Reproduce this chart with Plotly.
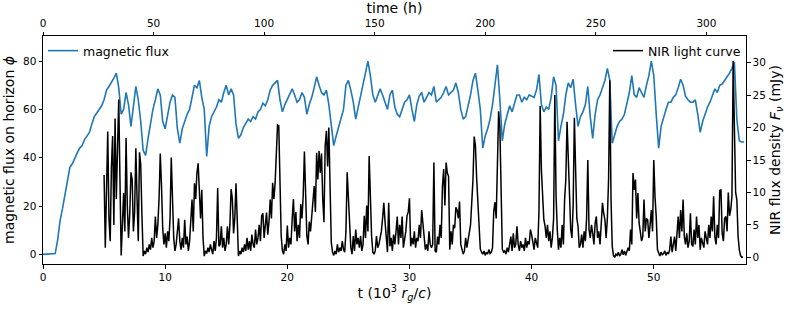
import numpy as np
import plotly.graph_objects as go

# ---- data ----
# magnetic flux on horizon, sampled every 0.2 (10^3 r_g/c) from t = 0
flux_step = 0.2
flux_values = [
    0, 0, 0, 0, 0,
    0.3, 6, 14, 19, 25,
    31, 36, 37.5, 40, 42,
    44, 45, 47.5, 49, 50.5,
    54, 57, 58.5, 60, 61.5,
    64, 68, 69.5, 71, 73,
    75, 69, 58, 60, 67,
    62, 53, 62, 69.5, 64,
    55, 43, 41, 48, 55,
    60, 64, 68.5, 66, 55,
    52, 58, 63, 66, 65,
    52, 46, 52, 55, 58,
    60, 65, 70, 69, 72,
    65, 60, 40.5, 53, 57,
    59, 61, 64, 63, 67,
    70, 66, 68.5, 66, 54,
    48, 49.5, 52.5, 54, 56,
    55, 57, 56, 59, 60,
    62.6, 61.5, 64, 68, 70,
    71, 72, 64, 59, 62,
    64, 66, 68.5, 66, 63,
    64, 67, 65, 58, 62,
    65, 69, 73.5, 70, 67,
    66, 68, 62, 52, 45,
    49, 53, 56, 60, 70,
    72, 68, 63, 56, 61,
    66, 70, 76, 80, 74,
    66, 63, 66, 68.5, 66,
    63, 60, 66, 68, 61,
    58, 57, 60, 63, 64,
    66, 60, 55, 62, 65.5,
    67, 63, 65, 67, 66,
    69.5, 63, 64, 65, 67,
    69.5, 66, 67, 68, 71,
    67, 60, 56, 57, 61,
    66, 72, 75, 68, 60,
    44, 49, 52, 56, 62,
    70, 78.5, 64, 47, 54,
    58, 61.5, 59, 63, 66,
    66, 63, 65, 64, 66,
    65.5, 65, 68, 74.5, 62,
    59, 61, 60, 65, 73.5,
    70, 47, 53, 58, 66,
    71, 69, 72.5, 62, 53,
    57, 59, 62, 69.5, 57,
    48, 58, 64, 66, 69,
    72, 77, 72, 46, 50,
    53, 55, 56, 58, 62,
    67, 74, 66, 65, 69,
    67, 65, 70, 74, 80,
    74, 58, 44, 53, 57,
    60, 63, 63, 65, 66,
    69, 72.5, 70, 65.5, 64,
    63, 63, 64, 58, 50.5,
    55, 58, 61, 63, 66,
    68.5, 67, 70, 70.5, 72,
    73, 75, 77, 79.5, 56,
    47, 46.5, 46.5,
]

# NIR light curve (mJy), sampled every 0.1 from t = 5.0
nir_start = 5.0
nir_step = 0.1
nir_values = [
    12.7, 1.5, 10.4, 19.4, 6.0, 2.5, 14.0, 18.7, 5.0, 21.4,
    9.0, 15.0, 24.3, 12.0, 0.3, 5.0, 9.9, 4.0, 18.4, 8.0,
    3.0, 6.6, 13.1, 12.0, 4.0, 7.0, 16.8, 9.0, 2.5, 16.2,
    14.3, 6.4, 0.2, 1.0, 0.5, 1.5, 0.8, 2.0, 1.2, 3.0,
    1.5, 2.5, 6.3, 3.0, 5.0, 9.0, 16.0, 11.0, 4.5, 2.0,
    3.7, 1.5, 4.0, 2.5, 6.0, 15.4, 7.3, 3.0, 1.0, 2.0,
    4.0, 6.0, 2.5, 1.2, 3.0, 1.5, 5.8, 2.0, 3.2, 1.0,
    2.5, 6.0, 8.9, 4.0, 11.4, 9.0, 13.0, 14.5, 10.4, 6.0,
    10.4, 3.0, 0.2, 1.0, 0.6, 1.5, 0.8, 2.0, 1.2, 0.5,
    2.5, 1.0, 3.0, 10.7, 1.7, 2.0, 4.8, 1.5, 3.0, 1.0,
    2.0, 4.8, 2.0, 5.0, 10.5, 9.0, 3.7, 6.0, 11.4, 4.0,
    0.2, 1.0, 0.5, 1.5, 0.8, 2.0, 1.0, 3.0, 1.2, 2.5,
    1.0, 3.5, 2.0, 1.5, 4.3, 2.0, 3.0, 5.0, 2.5, 6.4,
    6.8, 3.0, 4.5, 6.9, 3.5, 5.5, 8.9, 6.0, 11.5, 9.0,
    11.4, 16.0, 20.4, 20.3, 9.0, 3.3, 1.0, 0.5, 2.0, 1.0,
    4.9, 1.5, 3.0, 2.0, 6.0, 9.0, 4.0, 7.0, 2.5, 5.0,
    3.0, 8.2, 6.0, 9.5, 16.3, 7.0, 3.3, 2.0, 5.5, 4.0,
    6.0, 8.0, 11.0, 7.0, 16.1, 12.0, 16.4, 13.0, 16.0, 9.0,
    5.4, 17.2, 19.5, 14.0, 20.0, 11.0, 2.3, 0.8, 0.3, 1.0,
    0.5, 2.0, 0.8, 1.5, 1.0, 2.5, 1.2, 0.8, 4.0, 13.1,
    9.0, 3.5, 1.5, 0.5, 3.3, 1.0, 4.3, 2.0, 3.0, 1.5,
    3.3, 1.0, 2.0, 6.4, 3.0, 8.0, 4.0, 15.6, 7.4, 3.3,
    0.8, 0.5, 1.0, 3.3, 1.5, 2.0, 3.0, 4.0, 6.0, 8.4,
    5.5, 2.5, 0.8, 8.4, 1.7, 3.0, 1.0, 3.5, 2.0, 4.0,
    6.3, 2.0, 5.0, 3.0, 6.3, 1.5, 2.5, 4.0, 6.4, 7.0,
    9.1, 1.7, 3.0, 2.0, 4.0, 1.5, 3.0, 2.5, 5.0, 3.0,
    7.3, 5.4, 3.0, 1.2, 2.0, 1.0, 4.0, 2.0, 1.5, 2.0,
    14.6, 1.0, 0.8, 3.2, 2.0, 5.0, 3.0, 11.0, 13.6, 8.0,
    14.6, 13.0, 12.5, 1.2, 4.0, 2.0, 5.0, 4.5, 7.7, 7.3,
    6.0, 8.6, 2.0, 1.2, 0.5, 1.0, 3.0, 1.5, 2.5, 4.0,
    5.0, 8.5, 12.0, 18.6, 17.2, 12.2, 9.0, 6.0, 1.3, 0.8,
    0.5, 1.0, 0.3, 0.8, 0.5, 1.2, 0.6, 0.8, 1.5, 7.1,
    8.5, 6.0, 13.0, 22.5, 20.0, 9.0, 1.3, 0.8, 1.0, 0.5,
    1.5, 0.8, 2.0, 3.2, 1.0, 3.7, 1.5, 2.0, 4.8, 2.0,
    1.0, 2.5, 1.5, 2.0, 1.0, 3.0, 1.5, 2.5, 2.0, 4.3,
    3.5, 2.0, 1.2, 3.0, 2.0, 1.5, 7.0, 23.3, 13.5, 8.9,
    5.8, 4.8, 3.0, 5.0, 2.5, 4.0, 1.5, 3.0, 6.0, 25.0,
    9.5, 4.3, 1.2, 3.0, 1.5, 5.0, 2.0, 8.9, 12.0, 20.9,
    16.0, 10.0, 4.3, 3.0, 8.0, 21.5, 11.4, 6.0, 4.8, 1.5,
    2.0, 3.5, 1.5, 4.0, 2.5, 6.0, 15.0, 4.3, 3.0, 5.0,
    3.7, 2.0, 5.3, 6.3, 3.0, 4.0, 2.0, 6.0, 8.4, 6.8,
    5.8, 3.0, 6.0, 12.0, 27.3, 8.9, 1.7, 0.3, 0.0, 0.5,
    0.3, 0.8, 0.2, 0.5, 1.2, 0.4, 1.0, 0.3, 0.8, 1.5,
    1.0, 4.3, 2.0, 13.0, 10.4, 12.0, 6.0, 9.9, 5.3, 4.0,
    2.5, 3.2, 8.9, 4.0, 6.0, 5.8, 3.0, 5.0, 7.3, 4.0,
    15.0, 9.4, 6.3, 1.2, 0.5, 0.2, 0.8, 0.4, 0.6, 1.0,
    0.3, 0.8, 0.5, 1.2, 3.2, 0.8, 2.0, 3.2, 1.0, 4.0,
    6.3, 3.0, 7.3, 4.0, 8.9, 3.2, 2.0, 3.7, 1.5, 2.5,
    6.8, 2.0, 1.7, 4.3, 2.0, 6.3, 3.0, 5.0, 1.2, 3.0,
    2.0, 1.5, 4.0, 3.2, 2.0, 5.0, 3.0, 6.3, 4.0, 9.4,
    3.2, 2.0, 5.0, 3.0, 10.3, 10.4, 3.7, 2.5, 6.0, 6.3,
    4.0, 10.0, 6.4, 7.3, 9.4, 30.3, 18.0, 10.0, 8.9, 3.3,
    1.2, 0.3, 0.0, 0.1,
]

hours_per_unit = 5.524          # 10^3 r_g/c expressed in hours (top axis)
t_max = 57.55

left_ticks = [0, 20, 40, 60, 80]
right_ticks = [0, 5, 10, 15, 20, 25, 30]
bottom_ticks = [0, 10, 20, 30, 40, 50]
top_ticks = [0, 50, 100, 150, 200, 250, 300]

flux_t = np.arange(len(flux_values)) * flux_step
nir_t = nir_start + np.arange(len(nir_values)) * nir_step

FONT = "DejaVu Sans"
TITLE_SIZE = 14

fig = go.Figure()
fig.add_trace(go.Scatter(
    x=flux_t, y=flux_values, mode="lines", name="magnetic flux",
    line=dict(color="#1f77b4", width=1.6), xaxis="x", yaxis="y", legend="legend",
))
fig.add_trace(go.Scatter(
    x=nir_t, y=nir_values, mode="lines", name="NIR light curve",
    line=dict(color="black", width=1.5), xaxis="x", yaxis="y2", legend="legend2",
))
# carrier for the top (hours) axis
fig.add_trace(go.Scatter(x=[], y=[], xaxis="x2", yaxis="y", showlegend=False, hoverinfo="skip"))

axis_common = dict(
    showline=True, linecolor="black", linewidth=1,
    ticks="outside", ticklen=3.5, tickwidth=1, tickcolor="black",
    showgrid=False, zeroline=False,
    tickfont=dict(family=FONT, size=10.5, color="black"),
)

fig.update_layout(
    width=789, height=309,
    margin=dict(l=43, r=43, t=36, b=45, autoexpand=False),
    paper_bgcolor="white", plot_bgcolor="white",
    font=dict(family=FONT, color="black"),
    xaxis=dict(
        **axis_common, range=[0, t_max], tickvals=bottom_ticks,
        title=dict(text="t (10<sup>3</sup> <i>r</i><sub><i>g</i></sub>/<i>c</i>)",
                   font=dict(family=FONT, size=TITLE_SIZE), standoff=4),
        automargin=False,
    ),
    xaxis2=dict(
        **axis_common, range=[0, t_max * hours_per_unit], tickvals=top_ticks,
        overlaying="x", side="top", anchor="y",
        title=dict(text="time (h)", font=dict(family=FONT, size=TITLE_SIZE), standoff=2),
        automargin=False,
    ),
    yaxis=dict(
        **axis_common, range=[-4.0, 90.4], tickvals=left_ticks,
        title=dict(text="magnetic flux on horizon <i>ϕ</i>",
                   font=dict(family=FONT, size=TITLE_SIZE), standoff=5),
        automargin=False,
    ),
    yaxis2=dict(
        **axis_common, range=[-1.02, 34.1], tickvals=right_ticks,
        overlaying="y", side="right", anchor="x",
        title=dict(text="NIR flux density <i>F</i><sub><i>ν</i></sub> (mJy)",
                   font=dict(family=FONT, size=TITLE_SIZE), standoff=5),
        automargin=False,
    ),
    legend=dict(
        x=0.0, y=1.0, xanchor="left", yanchor="top",
        bgcolor="rgba(0,0,0,0)", borderwidth=0,
        font=dict(family=FONT, size=12.5), itemwidth=30,
    ),
    legend2=dict(
        x=1.0, y=1.0, xanchor="right", yanchor="top",
        bgcolor="rgba(0,0,0,0)", borderwidth=0,
        font=dict(family=FONT, size=12.5), itemwidth=30,
    ),
    showlegend=True,
)

fig.write_html(
    "out.html",
    config={"displayModeBar": False},
    post_script="document.body.style.margin='0';document.body.style.overflow='hidden';",
)
